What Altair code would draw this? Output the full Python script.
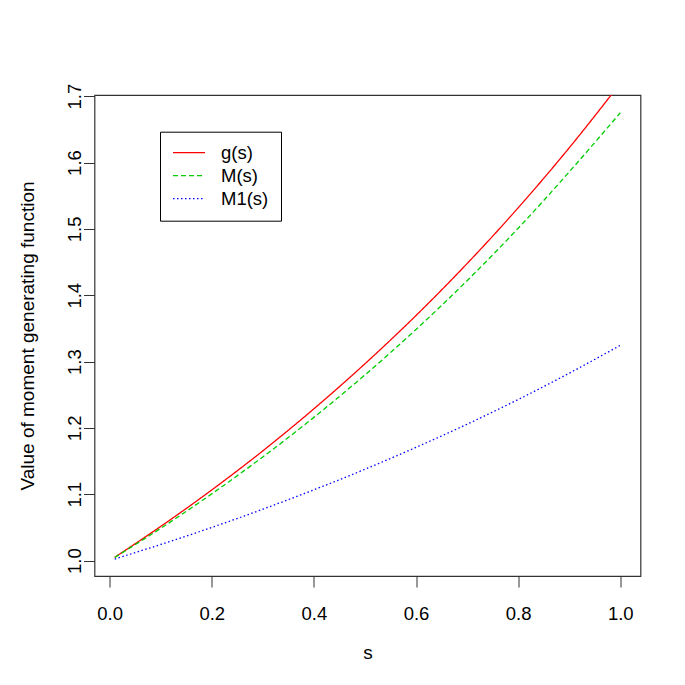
import altair as alt
import pandas as pd

# values
s_vals = [0.01, 0.1, 0.2, 0.3, 0.4, 0.5, 0.6, 0.7, 0.8, 0.9, 1.0]
g_vals = [1.005, 1.0515, 1.1065, 1.1654, 1.2288, 1.2967, 1.3694, 1.4477, 1.5317, 1.6222, 1.7194]
m_vals = [1.0047, 1.0486, 1.1006, 1.1563, 1.2159, 1.2799, 1.3484, 1.4219, 1.5009, 1.5859, 1.675]
m1_vals = [1.0024, 1.0243, 1.0500, 1.0775, 1.1067, 1.1377, 1.1707, 1.2056, 1.2428, 1.2825, 1.3245]

series_names = ["g(s)", "M(s)", "M1(s)"]
series_colors = ["#FF0000", "#00CD00", "#0000FF"]
series_dash = [[1, 0], [5, 3], [1.5, 2.5]]
y_ticks = [1.0, 1.1, 1.2, 1.3, 1.4, 1.5, 1.6, 1.7]
x_ticks = [0.0, 0.2, 0.4, 0.6, 0.8, 1.0]

rows = []
for name, vals in zip(series_names, [g_vals, m_vals, m1_vals]):
    for s, v in zip(s_vals, vals):
        rows.append({"s": s, "value": v, "series": name})
df = pd.DataFrame(rows)

FONT = "Liberation Sans"

legend = alt.Legend(
    orient="none", legendX=65.5, legendY=36.7, title=None,
    strokeColor="black", fillColor="white", padding=12, cornerRadius=0,
    symbolType="stroke", symbolSize=1024, symbolStrokeWidth=1.3,
    labelFontSize=18.5, labelFont=FONT, labelColor="black", labelOffset=15,
    rowPadding=4, clipHeight=18,
)

chart = alt.Chart(df).mark_line(clip=True, strokeWidth=1.3, interpolate="monotone").encode(
    x=alt.X("s:Q", scale=alt.Scale(domain=[-0.0296, 1.0396], nice=False, zero=False),
            axis=alt.Axis(values=x_ticks, format=".1f", title="s", grid=False, domain=False,
                          tickSize=11, tickColor="#333333", labelPadding=17,
                          labelFontSize=18.5, labelFont=FONT, labelColor="black",
                          titleFontSize=19, titleFont=FONT, titleFontWeight="normal",
                          titleColor="black", titleX=273, titleY=82,
                          titleBaseline="alphabetic", titleAlign="center")),
    y=alt.Y("value:Q", scale=alt.Scale(domain=[0.9768, 1.7018], nice=False, zero=False),
            axis=alt.Axis(values=y_ticks, format=".1f", title="Value of moment generating function",
                          grid=False, domain=False, tickSize=11, tickColor="#333333",
                          labelAngle=270, labelAlign="center", labelBaseline="alphabetic",
                          labelPadding=3, labelFontSize=18.5, labelFont=FONT, labelColor="black",
                          titleFontSize=19, titleFont=FONT, titleFontWeight="normal",
                          titleColor="black", titleAngle=270, titleX=-61.5, titleY=240.5,
                          titleAlign="center", titleBaseline="alphabetic")),
    color=alt.Color("series:N", scale=alt.Scale(domain=series_names, range=series_colors), legend=legend),
    strokeDash=alt.StrokeDash("series:N", scale=alt.Scale(domain=series_names, range=series_dash), legend=legend),
).properties(
    width=546, height=481,
    autosize=alt.AutoSizeParams(type="none"),
    padding={"left": 86.5, "top": 87, "right": 30, "bottom": 90},
    background="white",
).configure_view(
    stroke="#333333", strokeWidth=1.2
)

chart.save("out.html", embed_options={"renderer": "svg", "actions": False})
